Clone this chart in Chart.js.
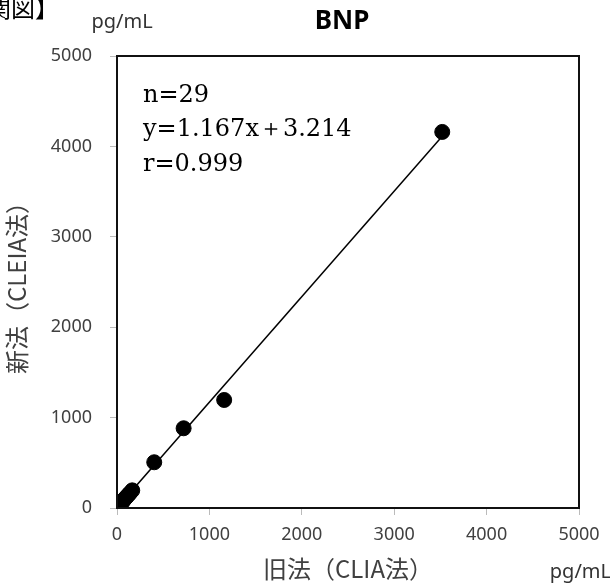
<!DOCTYPE html>
<html><head><meta charset="utf-8">
<script src="https://cdn.jsdelivr.net/npm/chart.js@4.4.0/dist/chart.umd.min.js"></script>
<style>html,body{margin:0;padding:0;background:#fff}#wrap{width:610px;height:587px}</style>
</head><body><div id="wrap"><canvas id="c" width="610" height="587"></canvas></div>
<script>
const oldMethod = [5,10,14,18,21,24,27,30,33,36,40,44,48,52,57,62,68,74,81,89,98,108,122,140,165,403,721,1160,3520];
const newMethod = [9,14,19,24,27,31,34,39,42,45,50,55,60,64,70,76,82,90,98,108,118,129,146,165,195,506,882,1195,4160];
const slope = 1.167, intercept = 3.214;
const fitX = [0, 3520];
const axisTicks = [0,1000,2000,3000,4000,5000];
const statsLines = ['n=29','y=1.167x\uFF0B3.214','r=0.999'];

const overlay = {
  id:'overlay',
  afterDraw(chart){
    const ctx = chart.ctx, a = chart.chartArea;
    ctx.save();
    ctx.strokeStyle = '#111'; ctx.lineWidth = 2;
    ctx.strokeRect(a.left, a.top, a.right-a.left, a.bottom-a.top);
    ctx.fillStyle = '#000';
    ctx.font = '24px "DejaVu Serif", serif';
    ctx.textBaseline = 'alphabetic'; ctx.textAlign = 'left';
    const bl = [102, 136, 171];
    statsLines.forEach((t,i)=>ctx.fillText(t, 143, bl[i]));
    ctx.font = 'bold 26px "Noto Sans", sans-serif';
    ctx.textAlign = 'center'; ctx.textBaseline = 'middle';
    ctx.fillText('BNP', 342, 22);
    ctx.fillStyle = '#333';
    ctx.font = '20px "Noto Sans", sans-serif';
    ctx.fillText('pg/mL', 122, 22);
    ctx.textAlign = 'right';
    ctx.fillText('pg/mL', 611, 572);
    ctx.fillStyle = '#000';
    ctx.font = '24px "Noto Sans CJK JP", sans-serif';
    ctx.textAlign = 'right';
    ctx.fillText('【相関図】', 59, 8);
    ctx.restore();
  }
};

new Chart(document.getElementById('c'), {
  type:'scatter',
  data:{
    datasets:[
      { type:'line', data: fitX.map(x=>({x, y: slope*x+intercept})), borderColor:'#000', borderWidth:1.5, pointRadius:0, fill:false, order:2 },
      { data: oldMethod.map((x,i)=>({x, y:newMethod[i]})), backgroundColor:'#000', borderColor:'#000', pointRadius:7.5, pointHoverRadius:7.5, order:1 }
    ]
  },
  options:{
    responsive:false, animation:false, devicePixelRatio:1,
    layout:{padding:{top:56,right:31,left:0,bottom:0}},
    plugins:{legend:{display:false}, tooltip:{enabled:false}, title:{display:false}},
    scales:{
      x:{ type:'linear', min:0, max:5000,
        afterBuildTicks: s => { s.ticks = axisTicks.map(v=>({value:v})); },
        afterFit: s => { s.height = 79; },
        grid:{drawOnChartArea:false, drawTicks:true, tickLength:7, color:'#bbb'},
        border:{display:false},
        ticks:{color:'#404040', font:{family:'"Noto Sans", sans-serif', size:18}, padding:9, maxRotation:0, callback: v => String(v)},
        title:{display:true, text:'旧法（CLIA法）', color:'#404040', font:{family:'"Noto Sans CJK JP", sans-serif', size:24}, padding:{top:3}}
      },
      y:{ type:'linear', min:0, max:5000,
        afterBuildTicks: s => { s.ticks = axisTicks.map(v=>({value:v})); },
        afterFit: s => { s.width = 117; },
        grid:{drawOnChartArea:false, drawTicks:true, tickLength:7, color:'#bbb'},
        border:{display:false},
        ticks:{color:'#404040', font:{family:'"Noto Sans", sans-serif', size:18}, padding:18, callback: v => String(v)},
        title:{display:true, text:'新法（CLEIA法）', color:'#404040', font:{family:'"Noto Sans CJK JP", sans-serif', size:24}, padding:{top:2, bottom:0}}
      }
    }
  },
  plugins:[overlay]
});
</script></body></html>
